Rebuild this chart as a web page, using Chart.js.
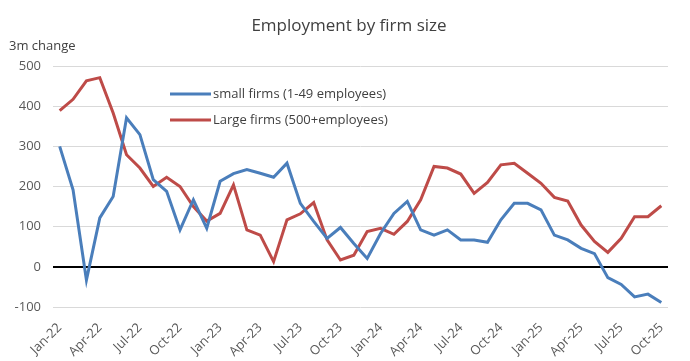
<!DOCTYPE html>
<html>
<head>
<meta charset="utf-8">
<script src="https://cdn.jsdelivr.net/npm/chart.js@4"></script>
<style>
  html, body { margin: 0; padding: 0; background: #fff; }
  #wrap { position: relative; width: 690px; height: 361px; }
</style>
</head>
<body>
<div id="wrap"><canvas id="chart" width="690" height="361"></canvas></div>
<script>
const months = ['Jan','Feb','Mar','Apr','May','Jun','Jul','Aug','Sep','Oct','Nov','Dec'];
const years = ['22', '23', '24', '25'];

const categories = [];
years.forEach(yr => months.forEach(m => categories.push(m + '-' + yr)));
categories.length = 46; // Jan-22 .. Oct-25

const smallFirms = [
    300, 192, -33, 122, 175, 371, 329, 217, 188, 92, 167, 96,
    213, 232, 242, 233, 223, 258, 158, 113, 71, 98, 58, 21,
    83, 133, 163, 92, 79, 92, 67, 67, 61, 117, 158, 158,
    142, 79, 67, 46, 33, -27, -44, -75, -68, -89
];

const largeFirms = [
    389, 417, 463, 471, 383, 279, 246, 200, 223, 200, 150, 114,
    133, 204, 92, 79, 13, 117, 132, 160, 67, 17, 29, 88,
    96, 81, 113, 167, 250, 246, 231, 183, 210, 254, 258, 233,
    208, 173, 164, 104, 63, 36, 71, 125, 125, 152
];

const seriesNames = ['small firms (1-49 employees)', 'Large firms (500+employees)'];
const yTicks = [-100, 0, 100, 200, 300, 400, 500];

const FONT = "'Open Sans', 'Liberation Sans', sans-serif";

// title, axis caption and in-plot legend
const overlay = {
    id: 'overlay',
    afterDraw(chart) {
        const ctx = chart.ctx;
        ctx.save();
        ctx.fillStyle = '#404040';
        ctx.font = '17px ' + FONT;
        ctx.textAlign = 'center';
        ctx.textBaseline = 'middle';
        ctx.fillText('Employment by firm size', 349, 26);

        ctx.font = '13px ' + FONT;
        ctx.textAlign = 'left';
        ctx.fillText('3m change', 9, 46);

        chart.data.datasets.forEach((ds, i) => {
            const y = 94 + i * 26;
            ctx.strokeStyle = ds.borderColor;
            ctx.lineWidth = 3;
            ctx.beginPath();
            ctx.moveTo(170, y);
            ctx.lineTo(211, y);
            ctx.stroke();
            ctx.fillStyle = '#404040';
            ctx.fillText(ds.label, 213, y);
        });
        ctx.restore();
    }
};

new Chart(document.getElementById('chart').getContext('2d'), {
    type: 'line',
    data: {
        labels: categories,
        datasets: [
            {
                label: seriesNames[0],
                data: smallFirms,
                borderColor: '#4a7ebb',
                borderWidth: 3,
                pointRadius: 0,
                tension: 0
            },
            {
                label: seriesNames[1],
                data: largeFirms,
                borderColor: '#be4b48',
                borderWidth: 3,
                pointRadius: 0,
                tension: 0
            }
        ]
    },
    options: {
        responsive: false,
        animation: false,
        layout: { padding: { left: 0, right: 22, top: 66, bottom: 0 } },
        scales: {
            x: {
                offset: true,
                grid: { display: false },
                border: { display: false },
                ticks: {
                    autoSkip: false,
                    maxRotation: 45,
                    minRotation: 45,
                    padding: 5,
                    color: '#595959',
                    font: { family: FONT, size: 13 },
                    callback: function (value, index) {
                        return index % 3 === 0 ? this.getLabelForValue(value) : '';
                    }
                },
                afterFit: scale => { scale.height = 54; }
            },
            y: {
                min: -100,
                max: 500,
                afterBuildTicks: scale => { scale.ticks = yTicks.map(v => ({ value: v })); },
                border: { display: false },
                grid: {
                    color: ctx => ctx.tick && ctx.tick.value === 0 ? '#000000' : '#d9d9d9',
                    lineWidth: ctx => ctx.tick && ctx.tick.value === 0 ? 2 : 1,
                    drawTicks: false
                },
                ticks: {
                    padding: 12,
                    color: '#595959',
                    font: { family: FONT, size: 13 }
                },
                afterFit: scale => { scale.width = 53; }
            }
        },
        plugins: {
            legend: { display: false },
            title: { display: false },
            tooltip: { enabled: false }
        }
    },
    plugins: [overlay]
});
</script>
</body>
</html>
